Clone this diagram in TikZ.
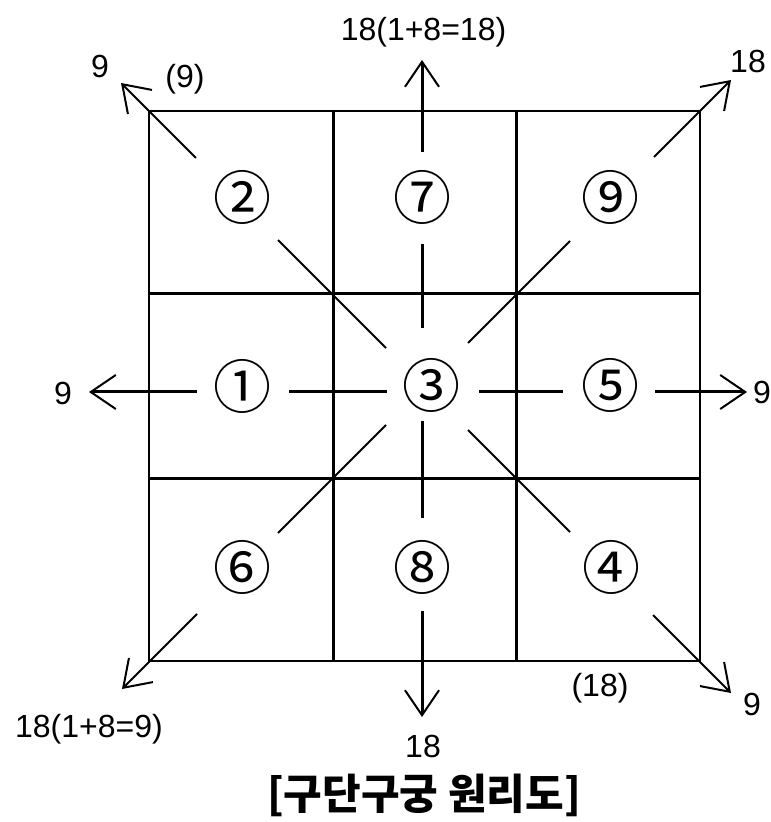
\documentclass[tikz,border=0pt]{standalone}
\usepackage{fontspec}
\setmainfont{Liberation Sans}
\newfontfamily\cjk{Noto Sans CJK KR}
\usetikzlibrary{arrows.meta}
\tikzset{
  lbl/.style={font=\fontsize{16}{18}\selectfont, inner sep=0pt},
  circnum/.style={font=\cjk\fontsize{29}{30}\selectfont, inner sep=0pt},
  titlelbl/.style={font=\cjk\bfseries\fontsize{21}{24}\selectfont, inner sep=0pt},
  outerbox/.style={line width=1pt},
  innerline/.style={line width=1.5pt},
  ray/.style={line width=1.5pt},
  dray/.style={line width=1pt},
  arr/.style={-{Straight Barb[length=12.5pt,width=17pt,line width=1pt]}}
}
\begin{document}
\begin{tikzpicture}[x=0.5pt,y=-0.5pt]
\useasboundingbox (0,0) rectangle (770,822);
% grid
\draw[outerbox] (149,111) rectangle (700,661);
\draw[innerline] (333,111) -- (333,661);
\draw[innerline] (516,111) -- (516,661);
\draw[innerline] (149,294) -- (700,294);
\draw[innerline] (149,478) -- (700,478);
% circled numbers
\node[circnum] (n2) at (242,197) {②};
\node[circnum] (n7) at (422,197) {⑦};
\node[circnum] (n9) at (610,197) {⑨};
\node[circnum] (n1) at (242,386) {①};
\node[circnum] (n3) at (431,385) {③};
\node[circnum] (n5) at (610,385) {⑤};
\node[circnum] (n6) at (242,567) {⑥};
\node[circnum] (n8) at (422,567) {⑧};
\node[circnum] (n4) at (611,567) {④};
% labels
\node[lbl] (ltop) at (423.5,32) {18(1+8=18)};
\node[lbl] (lul) at (100,66) {9};
\node[lbl] (lulp) at (185,79) {(9)};
\node[lbl] (lur) at (748,61) {18};
\node[lbl] (lleft) at (63,393) {9};
\node[lbl] (lright) at (762,392) {9};
\node[lbl] (lll) at (89,729) {18(1+8=9)};
\node[lbl] (llrp) at (600,688) {(18)};
\node[lbl] (llr) at (752,704) {9};
\node[lbl] (lbot) at (423,746) {18};
\node[titlelbl] (title) at (424,795) {[구단구궁 원리도]};
% coordinates for ray ends
\coordinate (h1a) at (197,392); \coordinate (h1b) at (89,392);
\coordinate (h2a) at (289,392); \coordinate (h2b) at (387,392);
\coordinate (h3a) at (479,392); \coordinate (h3b) at (563,392);
\coordinate (h4a) at (655,392); \coordinate (h4b) at (747,392);
\coordinate (v1a) at (422,152); \coordinate (v1b) at (422,60);
\coordinate (v2a) at (422,244); \coordinate (v2b) at (422,328);
\coordinate (v3a) at (422,421); \coordinate (v3b) at (422,518);
\coordinate (v4a) at (422,611); \coordinate (v4b) at (422,717);
\coordinate (d1a) at (196,158); \coordinate (d1b) at (121,83);
\coordinate (d2a) at (278,240); \coordinate (d2b) at (386,348);
\coordinate (d3a) at (468,430); \coordinate (d3b) at (570,532);
\coordinate (d4a) at (653,615); \coordinate (d4b) at (731,693);
\coordinate (e1a) at (654,157); \coordinate (e1b) at (731,80);
\coordinate (e2a) at (468,343); \coordinate (e2b) at (570,241);
\coordinate (e3a) at (386,425); \coordinate (e3b) at (278,533);
\coordinate (e4a) at (197,614); \coordinate (e4b) at (122,689);
% horizontal rays
\draw[ray,arr] (h1a) -- (h1b);
\draw[ray] (h2a) -- (h2b);
\draw[ray] (h3a) -- (h3b);
\draw[ray,arr] (h4a) -- (h4b);
% vertical rays
\draw[ray,arr] (v1a) -- (v1b);
\draw[ray] (v2a) -- (v2b);
\draw[ray] (v3a) -- (v3b);
\draw[ray,arr] (v4a) -- (v4b);
% diagonal rays
\draw[dray,arr] (d1a) -- (d1b);
\draw[dray] (d2a) -- (d2b);
\draw[dray] (d3a) -- (d3b);
\draw[dray,arr] (d4a) -- (d4b);
\draw[dray,arr] (e1a) -- (e1b);
\draw[dray] (e2a) -- (e2b);
\draw[dray] (e3a) -- (e3b);
\draw[dray,arr] (e4a) -- (e4b);
\end{tikzpicture}
\end{document}
